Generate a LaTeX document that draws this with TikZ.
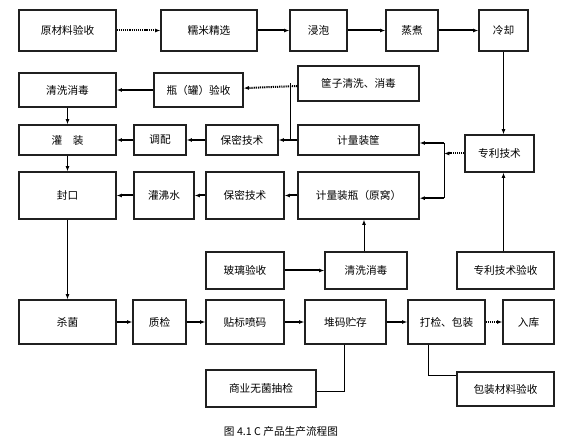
\documentclass[tikz,border=0pt]{standalone}
\usepackage{fontspec}
\newfontfamily\cjk{Noto Sans CJK SC}
\usepackage{tikz}
\usetikzlibrary{arrows.meta,positioning,calc}
\definecolor{boxline}{HTML}{202020}
\tikzset{
  block/.style={draw=boxline,line width=0.9pt,inner sep=0pt,fill=white,
    align=center,font=\cjk\fontsize{8}{10}\selectfont},
  flowarrow/.style={-{Latex[length=4pt,width=3pt]},line width=1.5pt,draw=black},
  dotarrow/.style={-{Latex[length=4pt,width=3pt]},line width=1.5pt,
    dash pattern=on 0.9pt off 0.7pt,draw=black},
  thinline/.style={line width=0.7pt,draw=black},
  thinarrow/.style={-{Latex[length=4pt,width=3pt]},line width=0.7pt,draw=black}
}
\begin{document}
\begin{tikzpicture}[x=0.75pt,y=-0.75pt]
\useasboundingbox (0,0) rectangle (575,441);
% first row
\node[block,minimum width=72.75pt,minimum height=30.75pt] (yclys) at (67.5,30.5) {原材料验收};
\node[block,minimum width=72pt,minimum height=30.75pt] (nmjx) at (209,30.5) {糯米精选};
\node[block,minimum width=42.75pt,minimum height=30.75pt] (jp) at (318.5,30.5) {浸泡};
\node[block,minimum width=39pt,minimum height=30.75pt] (zz) at (412,30.5) {蒸煮};
\node[block,minimum width=36.75pt,minimum height=30.75pt] (lq) at (503.5,30.5) {冷却};
% bottles
\node[block,minimum width=72.75pt,minimum height=25.5pt] (qxxda) at (67.5,90) {清洗消毒};
\node[block,minimum width=66.75pt,minimum height=25.5pt] (pgys) at (198.5,90) {瓶（罐）验收};
\node[block,minimum width=90.75pt,minimum height=26.25pt] (kzqx) at (358.5,83.5) {筐子清洗、消毒};
% filling
\node[block,minimum width=72.75pt,minimum height=22.5pt] (gz) at (67.5,140) {灌\quad 装};
\node[block,minimum width=39pt,minimum height=22.5pt] (tp) at (160,140) {调配};
\node[block,minimum width=54pt,minimum height=22.5pt] (bmjsa) at (242,140) {保密技术};
\node[block,minimum width=90.75pt,minimum height=22.5pt] (jlzk) at (358.5,140) {计量装筐};
% sealing
\node[block,minimum width=72.75pt,minimum height=35.25pt] (fk) at (67.5,195.5) {封口};
\node[block,minimum width=45pt,minimum height=35.25pt] (gfs) at (164,195.5) {灌沸水};
\node[block,minimum width=58.5pt,minimum height=35.25pt] (bmjsb) at (245,195.5) {保密技术};
\node[block,minimum width=90.75pt,minimum height=35.25pt] (jlzp) at (358.5,195.5) {计量装瓶（原窝）};
\node[block,minimum width=51.75pt,minimum height=27.75pt] (zljs) at (499.5,153.5) {专利技术};
% glass and patent
\node[block,minimum width=58.5pt,minimum height=27.75pt] (blys) at (245,270.5) {玻璃验收};
\node[block,minimum width=61.5pt,minimum height=27.75pt] (qxxdb) at (366,270.5) {清洗消毒};
\node[block,minimum width=72.75pt,minimum height=27.75pt] (zlys) at (505.5,270.5) {专利技术验收};
% last row
\node[block,minimum width=72.75pt,minimum height=33pt] (sj) at (67.5,322) {杀菌};
\node[block,minimum width=39.75pt,minimum height=33pt] (zj) at (159.5,322) {质检};
\node[block,minimum width=58.5pt,minimum height=33pt] (tbpm) at (245,322) {贴标喷码};
\node[block,minimum width=60.75pt,minimum height=33pt] (dmzc) at (345.5,322) {堆码贮存};
\node[block,minimum width=57.75pt,minimum height=33pt] (djbz) at (446.5,322) {打检、包装};
\node[block,minimum width=38.25pt,minimum height=33pt] (rk) at (528.5,322) {入库};
\node[block,minimum width=82.5pt,minimum height=27.75pt] (sywj) at (261,388.5) {商业无菌抽检};
\node[block,minimum width=72.75pt,minimum height=25.5pt] (bzcl) at (505.5,389) {包装材料验收};
\node[font=\cjk\fontsize{8}{10}\selectfont] (title) at (281,431) {图 4.1 C 产品生产流程图};
\coordinate (kzj) at (290,83.5);
\coordinate (zlj) at (444,153.5);
% connectors
\draw[dotarrow] (yclys) -- (nmjx);
\draw[flowarrow] (nmjx) -- (jp);
\draw[flowarrow] (jp) -- (zz);
\draw[flowarrow] (zz) -- (lq);
\draw[dotarrow] (kzqx) -- (pgys);
\draw[flowarrow] (pgys) -- (qxxda);
\draw[thinline] (kzj) -- (kzj |- bmjsa.east);
\draw[thinarrow] (qxxda) -- (gz);
\draw[thinarrow] (gz) -- (fk);
\draw[thinarrow] (fk) -- (sj);
\draw[flowarrow] (jlzk) -- (bmjsa);
\draw[flowarrow] (bmjsa) -- (tp);
\draw[flowarrow] (tp) -- (gz);
\draw[flowarrow] (jlzp) -- (bmjsb);
\draw[flowarrow] (bmjsb) -- (gfs);
\draw[flowarrow] (gfs) -- (fk);
\draw[thinarrow] (lq.south) -- (lq.south |- zljs.north);
\draw[thinarrow] (zlys.north -| lq.south) -- (lq.south |- zljs.south);
\draw[dotarrow] (zljs) -- (zlj);
\draw[flowarrow] ([yshift=-2.25pt]zlj |- jlzk.east) -- ([yshift=-2.25pt]jlzk.east);
\draw[flowarrow] ([yshift=-2pt]zlj |- jlzp.east) -- ([yshift=-2pt]jlzp.east);
\draw[thinline] ([yshift=-2.25pt]zlj |- jlzk.east) -- ([yshift=-2pt]zlj |- jlzp.east);
\draw[flowarrow] (blys) -- (qxxdb);
\draw[thinarrow] ([xshift=-1.5pt]qxxdb.north) -- ([xshift=-1.5pt]qxxdb.north |- jlzp.south);
\draw[flowarrow] (sj) -- (zj);
\draw[flowarrow] (zj) -- (tbpm);
\draw[flowarrow] (tbpm) -- (dmzc);
\draw[flowarrow] (dmzc) -- (djbz);
\draw[dotarrow] (djbz) -- (rk);
\draw[thinline] ([xshift=-1pt]dmzc.south) |- ([yshift=-2.6pt]sywj.east);
\draw[thinline] ([xshift=-13.5pt]djbz.south) |- ([yshift=10.5pt]bzcl.west);
\end{tikzpicture}
\end{document}
